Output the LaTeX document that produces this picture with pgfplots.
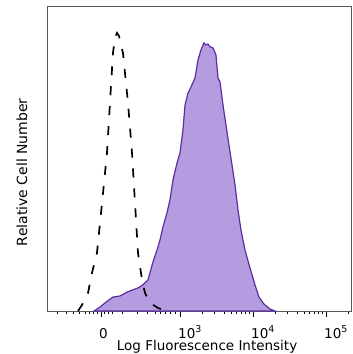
\documentclass[border=0pt]{standalone}
\usepackage{pgfplots}
\pgfplotsset{compat=1.18}
\usepackage{fontspec}
\setmainfont{DejaVu Sans}
\definecolor{fillp}{RGB}{181,155,224}
\definecolor{linep}{RGB}{92,46,158}
\pgfplotstableread{
u v
-0.096 0
-0.014 1.4
0.068 3.2
0.164 5.0
0.26 5.4
0.356 6.8
0.438 7.6
0.507 8.3
0.575 9.4
0.644 11.2
0.712 17.6
0.767 21.9
0.808 25.5
0.849 30.2
0.904 35.3
0.945 39.9
0.986 47.1
1.041 53.2
1.082 56.8
1.123 65.1
1.151 74.1
1.192 78.4
1.233 80.6
1.288 83.8
1.329 90.3
1.370 93.9
1.411 96.4
1.438 95.7
1.466 96.0
1.493 95.0
1.534 94.6
1.575 92.1
1.603 83.8
1.630 82.4
1.671 74.1
1.712 66.9
1.753 59.7
1.795 52.5
1.836 45.3
1.877 36.3
1.918 29.1
1.973 21.9
2.041 15.5
2.110 9.4
2.164 5.0
2.233 2.5
2.315 0.7
2.384 0
}\stained
\pgfplotstableread{
u v
-0.315 0
-0.26 2.2
-0.178 6.5
-0.123 13.7
-0.055 20.9
0.014 38.8
0.082 56.8
0.123 74.8
0.164 92.8
0.192 98.2
0.219 100
0.247 98.9
0.274 95.7
0.301 92.8
0.370 74.8
0.425 56.8
0.466 38.8
0.507 20.9
0.562 11.2
0.603 6.5
0.671 2.9
0.781 1.1
0.89 0
}\control
\begin{document}
\begin{tikzpicture}
\begin{axis}[
  width=303pt, height=304.5pt, scale only axis,
  xmin=-0.726, xmax=3.425, ymin=0, ymax=109.5,
  axis line style={black!65, line width=1pt},
  ytick=\empty,
  xtick={0,1.082,2.082,3.082},
  xticklabels={0,10\textsuperscript{3},10\textsuperscript{4},10\textsuperscript{5}},
  minor xtick={-0.60,-0.48,-0.38,-0.29,-0.22,-0.16,-0.11,-0.05,0.05,0.10,0.15,0.288,0.493,0.630,0.740,0.808,0.877,0.945,1.014,1.383,1.559,1.684,1.781,1.860,1.927,1.985,2.036,2.383,2.559,2.684,2.781,2.860,2.927,2.985,3.036,3.383},
  tick align=outside,
  xtick pos=bottom,
  major tick length=6pt, minor tick length=3pt,
  tick style={black, line width=0.8pt},
  xticklabel style={anchor=base west, inner sep=0pt, xshift=-2pt, yshift=-21pt, font=\fontsize{13.5}{15}\selectfont},
  xlabel={Log Fluorescence Intensity},
  ylabel={Relative Cell Number},
  xlabel style={at={(axis description cs:0.525,-0.131)}, anchor=base, inner sep=0pt, font=\fontsize{13.5}{15}\selectfont},
  ylabel style={at={(axis description cs:-0.0858,0.456)}, anchor=center, font=\fontsize{14}{16}\selectfont},
]
\addplot[fill=fillp, draw=linep, line width=1.2pt] table[x=u,y=v] {\stained} \closedcycle;
\addplot[black, line width=1.7pt, dash pattern=on 9pt off 11pt] table[x=u,y=v] {\control};
\coordinate (BL) at (rel axis cs:0,0);
\coordinate (TR) at (rel axis cs:1,1);
\end{axis}
\pgfresetboundingbox
\path[use as bounding box] ([shift={(-48pt,-43pt)}]BL) rectangle ([shift={(1pt,6.5pt)}]TR);
\end{tikzpicture}
\end{document}
